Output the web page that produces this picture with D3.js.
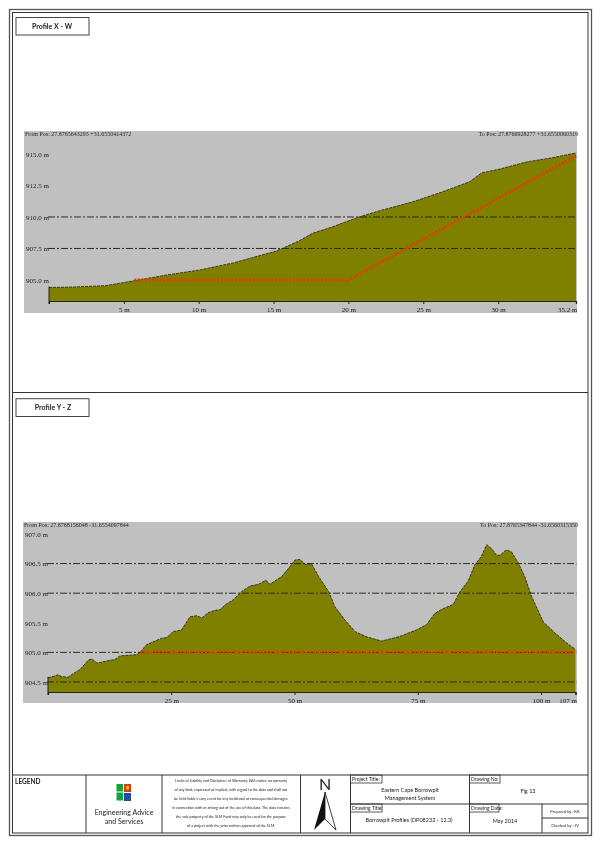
<!DOCTYPE html>
<html>
<head>
<meta charset="utf-8">
<title>Borrowpit Profiles</title>
<script src="https://cdn.jsdelivr.net/npm/d3@7"></script>
<style>
	html, body { margin: 0; padding: 0; background: #fff; }
	svg { display: block; filter: blur(0.3px); }
	.lbl { font-family: "Liberation Serif", serif; font-size: 7px; fill: #222; }
	.sheet { font-family: Lato, "Open Sans", sans-serif; fill: #222; }
</style>
</head>
<body>
<svg id="sheet" width="601" height="851"></svg>
<script>
// profile X - W
const distXW = [0, 1.7, 3.8, 5.6, 7.9, 10.1, 12.3, 15.2, 16.7, 17.6, 18.9, 20.7, 22.1, 24.3, 26.3, 28.1, 28.9, 30.1, 31.9, 33.6, 35.2];
const elevXW = [904.4, 904.44, 904.55, 904.92, 905.4, 905.8, 906.35, 907.3, 908.1, 908.7, 909.2, 910, 910.5, 911.2, 912, 912.8, 913.5, 913.8, 914.37, 914.7, 915.08];
const planDistXW = [5.7, 20, 35.2];
const planElevXW = [905, 905, 914.85];
const xTicksXW = [5, 10, 15, 20, 25, 30, 35.2];
const yTicksXW = [915, 912.5, 910, 907.5, 905];
const gridXW = [910, 907.5];

// profile Y - Z
const distYZ = [0, 1.4, 2, 2.8, 4.1, 5.1, 6.5, 8.2, 8.9, 9.9, 10.6, 12.2, 13.6, 14.6, 16.3, 18, 19, 20, 21.7, 23.1, 24.1, 25.4, 27.1, 28.8, 30.2, 31.2, 32.5, 33.9, 34.9, 35.9, 37.6, 39.3, 41, 42.7, 44.2, 45, 47.4, 48.8, 50.1, 51.1, 52.1, 53.5, 54.9, 56.9, 58.2, 60.2, 62.3, 64.7, 67.7, 71.4, 74.8, 76.8, 78.5, 80.2, 82.2, 83.6, 85.2, 86.6, 87.9, 89, 90, 91, 91.7, 92.9, 94, 95.4, 96.7, 98.1, 100.5, 102.8, 105.2, 107];
const elevYZ = [904.57, 904.6, 904.62, 904.59, 904.58, 904.64, 904.71, 904.87, 904.89, 904.82, 904.83, 904.86, 904.88, 904.94, 904.95, 904.96, 905.03, 905.13, 905.19, 905.24, 905.25, 905.35, 905.38, 905.6, 905.62, 905.58, 905.67, 905.71, 905.72, 905.8, 905.89, 906.03, 906.12, 906.15, 906.22, 906.15, 906.28, 906.42, 906.56, 906.57, 906.49, 906.49, 906.28, 906.03, 905.77, 905.55, 905.35, 905.26, 905.19, 905.27, 905.38, 905.47, 905.66, 905.74, 905.81, 906.03, 906.2, 906.48, 906.62, 906.82, 906.75, 906.64, 906.64, 906.73, 906.7, 906.51, 906.28, 905.94, 905.51, 905.33, 905.16, 905.05];
const planDistYZ = [18.7, 107];
const planElevYZ = [905, 905];
const xTicksYZ = [25, 50, 75, 100, 107];
const yTicksYZ = [907, 906.5, 906, 905.5, 905, 904.5];
const gridYZ = [906.5, 906, 905, 904.5];

// header texts
const profileNames = ["Profile X - W", "Profile Y - Z"];
const fromToXW = ["From Pos: 27.8765643293  +31.6550414372", "To Pos: 27.8766928277  +31.6550060319"];
const fromToYZ = ["From Pos: 27.8768156048  -31.6554097844", "To Pos: 27.8765347844  -31.6560315350"];
const disclaimer = [
	"Limits of Liability and Disclaimer of Warranty: EAS makes no warranty",
	"of any kind, expressed or implied, with regard to the data and shall not",
	"be held liable in any event for any incidental or consequential damages",
	"in connection with or arising out of the use of this data. The data remains",
	"the sole property of the SLM Fund may only be used for the purpose",
	"of a project with the prior written approval of the SLM."
];

const svg = d3.select("#sheet");

function drawProfile(opt) {
	var g = svg.append("g");

	g.append("rect")
		.attr("x", opt.panel[0]).attr("y", opt.panel[1])
		.attr("width", opt.panel[2] - opt.panel[0]).attr("height", opt.panel[3] - opt.panel[1])
		.attr("fill", "#c0c0c0");

	var x = d3.scaleLinear().domain(opt.xDomain).range(opt.xRange);
	var y = d3.scaleLinear().domain(opt.yDomain).range(opt.yRange);
	var base = opt.yRange[0];

	var pts = opt.dist.map((d, i) => [d, opt.elev[i]]);

	g.append("path")
		.attr("d", d3.area().x(d => x(d[0])).y0(base).y1(d => y(d[1]))(pts))
		.attr("fill", "#808000");

	// terrain outline
	g.append("path")
		.attr("d", d3.line().x(d => x(d[0])).y(d => y(d[1]))(pts))
		.attr("fill", "none")
		.attr("stroke", "#2a2a10")
		.attr("stroke-width", 0.9)
		.attr("stroke-dasharray", "3 1");

	// dash dot grid lines
	g.selectAll(".grid")
		.data(opt.grid)
		.enter()
		.append("line")
		.attr("class", "grid")
		.attr("x1", opt.xRange[0] - 1).attr("x2", opt.xRange[1] + 1)
		.attr("y1", d => y(d)).attr("y2", d => y(d))
		.attr("stroke", "#2b2b1c")
		.attr("stroke-width", 1)
		.attr("stroke-dasharray", "7 2 2 2");

	// planned level
	var plan = opt.planDist.map((d, i) => [d, opt.planElev[i]]);
	g.append("path")
		.attr("d", d3.line().x(d => x(d[0])).y(d => y(d[1]))(plan))
		.attr("fill", "none")
		.attr("stroke", "#e23c00")
		.attr("stroke-width", 3)
		.attr("stroke-dasharray", "2 1.6");

	// x axis
	var xAxis = d3.axisBottom(x)
		.tickValues(opt.xTicks)
		.tickSize(3)
		.tickFormat(d => d + " m");
	var ax = g.append("g")
		.attr("transform", "translate(0," + base + ")")
		.call(xAxis);
	ax.select(".domain").attr("stroke", "#26260a").attr("stroke-width", 1.2);
	ax.selectAll("line").attr("stroke", "#222");
	ax.selectAll("text")
		.attr("class", "lbl")
		.attr("y", 6)
		.attr("text-anchor", (d, i) => i === opt.xTicks.length - 1 ? "end" : "middle")
		.attr("dx", (d, i) => i === opt.xTicks.length - 1 ? 1 : 0);

	// left stub of the x axis
	g.append("line")
		.attr("x1", opt.xRange[0]).attr("x2", opt.xRange[0])
		.attr("y1", y(opt.elev[0]) - 1).attr("y2", base + 3)
		.attr("stroke", "#222").attr("stroke-width", 1);

	// y labels
	var ay = g.append("g")
		.attr("transform", "translate(" + (opt.panel[0] + 2) + ",0)")
		.call(d3.axisLeft(y).tickValues(opt.yTicks).tickSize(0).tickFormat(d => d3.format(".1f")(d) + " m"));
	ay.select(".domain").remove();
	ay.selectAll("text")
		.attr("class", "lbl")
		.attr("x", 0)
		.attr("text-anchor", "start");

	// positions
	g.append("text").attr("class", "lbl").attr("x", opt.panel[0] + 1).attr("y", opt.panel[1] + 5)
		.style("font-size", "6px").text(opt.fromTo[0]);
	g.append("text").attr("class", "lbl").attr("x", opt.panel[2] + 1).attr("y", opt.panel[1] + 5)
		.style("font-size", "6px").attr("text-anchor", "end").text(opt.fromTo[1]);
}

drawProfile({
	panel: [24, 131, 577, 313],
	xDomain: [0, 35.2], xRange: [49, 576],
	yDomain: [903.33, 915], yRange: [301, 154],
	dist: distXW, elev: elevXW, planDist: planDistXW, planElev: planElevXW,
	xTicks: xTicksXW, yTicks: yTicksXW, grid: gridXW, fromTo: fromToXW
});

drawProfile({
	panel: [23, 522, 577, 703],
	xDomain: [0, 107], xRange: [48, 575.5],
	yDomain: [904.33, 907], yRange: [692, 534],
	dist: distYZ, elev: elevYZ, planDist: planDistYZ, planElev: planElevYZ,
	xTicks: xTicksYZ, yTicks: yTicksYZ, grid: gridYZ, fromTo: fromToYZ
});

// sheet frame
function box(x1, y1, x2, y2, col, w) {
	svg.append("rect").attr("x", x1).attr("y", y1).attr("width", x2 - x1).attr("height", y2 - y1)
		.attr("fill", "none").attr("stroke", col || "#333").attr("stroke-width", w || 1);
}
function rule(x1, y1, x2, y2) {
	svg.append("line").attr("x1", x1).attr("y1", y1).attr("x2", x2).attr("y2", y2)
		.attr("stroke", "#333").attr("stroke-width", 1);
}
function label(x, y, txt, size, anchor, weight) {
	svg.append("text").attr("class", "sheet").attr("x", x).attr("y", y)
		.attr("text-anchor", anchor || "middle")
		.style("font-size", size + "px")
		.style("font-weight", weight || "normal")
		.text(txt);
}

box(9.5, 9.5, 591.5, 835.5, "#555", 1.3);
box(12.5, 12.5, 588, 833, "#333", 1);
rule(12.5, 392.5, 588, 392.5);
rule(12.5, 775, 588, 775);

// profile name boxes
box(16, 17.5, 89, 35, "#444", 1);
box(16, 398.7, 89, 416.5, "#444", 1);
label(52, 29, profileNames[0], 7, "middle", "bold");
label(53, 410, profileNames[1], 7, "middle", "bold");

// title block
rule(86, 775, 86, 833);
rule(162, 775, 162, 833);
rule(300.5, 775, 300.5, 833);
rule(350.5, 775, 350.5, 833);
rule(469.5, 775, 469.5, 833);
rule(350.5, 804, 588, 804);
rule(542, 804, 542, 833);
rule(542, 818, 588, 818);

label(15, 784, "LEGEND", 6.5, "start", "bold");

// logo squares
const logoCells = [[116.5, 784, 6.5, 7.5, "#12a53a"], [116.5, 792.5, 6.5, 8, "#12a53a"], [124, 784, 7, 8, "#dd3a10"], [126.3, 786, 2.6, 3.5, "#f4c430"], [124, 793, 7, 8, "#1c4fa8"]];
logoCells.forEach(function(c) {
	svg.append("rect").attr("x", c[0]).attr("y", c[1]).attr("width", c[2]).attr("height", c[3]).attr("fill", c[4]);
});
label(124, 815, "Engineering Advice", 7, "middle");
label(124, 824, "and Services", 7, "middle");

disclaimer.forEach(function(t, i) {
	label(231, 781.5 + i * 9, t, 3.7, "middle");
});

// north arrow
label(325, 790, "N", 16, "middle");
svg.append("path").attr("d", d3.line()([[325, 792], [314, 830], [325, 819]])).attr("fill", "#111");
svg.append("path").attr("d", d3.line()([[325, 792], [336, 830], [325, 819]]) + "Z").attr("fill", "#fff").attr("stroke", "#111").attr("stroke-width", 0.8);

// tags
const tagBoxes = [[350.5, 775, 382, 783, "Project Title:"], [469.5, 775, 500, 783, "Drawing No:"], [350.5, 804, 382, 812, "Drawing Title:"], [469.5, 804, 499, 812, "Drawing Date:"]];
tagBoxes.forEach(function(t) {
	box(t[0], t[1], t[2], t[3], "#333", 0.8);
	label(t[0] + 1.5, t[3] - 2, t[4], 5, "start");
});
label(410, 792, "Eastern Cape Borrowpit", 5.5);
label(410, 800, "Management System", 5.5);
label(409, 822, "Borrowpit Profiles (DP08232 - 12.3)", 5.5);
label(528, 793, "Fig 13", 5.5);
label(505, 823, "May 2014", 5.5);
label(565, 813, "Prepared by : KK", 4);
label(565, 827, "Checked by : JV", 4);
</script>
</body>
</html>
